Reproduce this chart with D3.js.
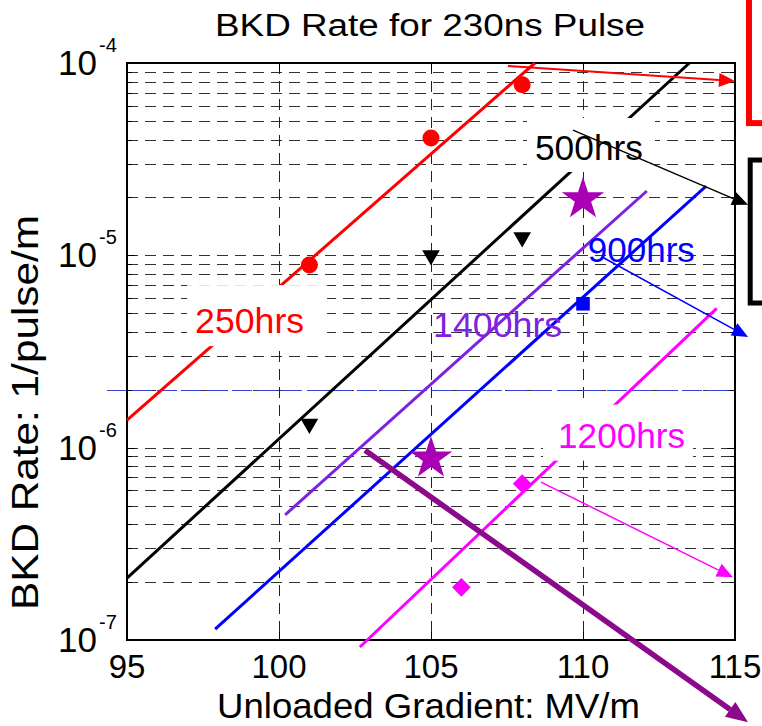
<!DOCTYPE html>
<html>
<head>
<meta charset="utf-8">
<script src="https://cdn.jsdelivr.net/npm/d3@7"></script>
<style>
  body { margin: 0; background: #fff; }
  svg text { font-family: "Liberation Sans", Arial, sans-serif; }
</style>
</head>
<body>
<svg id="chart" width="762" height="726"></svg>
<script>
// measured points (gradient MV/m, BKD rate 1/pulse/m)
const circleGradient = [101, 105, 108];
const circleRate = [8.9e-6, 4.07e-5, 7.7e-5];
const triangleGradient = [101, 105, 108];
const triangleRate = [1.33e-6, 1.0e-5, 1.24e-5];
const starGradient = [105, 110];
const starRate = [8.8e-7, 1.96e-5];
const squareGradient = [110];
const squareRate = [5.6e-6];
const diamondGradient = [106, 108];
const diamondRate = [1.88e-7, 6.5e-7];

// fitted lines, start and end
const fitNames = ["250hrs", "500hrs", "1400hrs", "900hrs", "1200hrs"];
const fitGradient = [[95, 108.42], [95, 113.5], [100.2, 112.1], [97.9, 114.05], [102.66, 114.4]];
const fitRate = [[1.39e-6, 1e-4], [2.1e-7, 1e-4], [4.47e-7, 2.16e-5], [1.14e-7, 2.29e-5], [9.2e-8, 5.3e-6]];

// reference level
const refRate = 2e-6;
const refGradient = [94.34, 115];

// axis ticks
const xTicks = [95, 100, 105, 110, 115];
const yDecades = [-7, -6, -5, -4];

// label anchors (gradient, rate)
const labelGradient = [97.24, 108.42, 105.07, 110.16, 109.18];
const labelRate = [3.94e-6, 3.13e-5, 3.76e-6, 9.2e-6, 1.0e-6];

// arrows from labels to the (cut off) boxes on the right
const arrowFrom = [[107.53, 9.64e-5], [109.67, 4.48e-5], [110.63, 9.8e-6], [108.62, 6.62e-7], [102.83, 9.7e-7]];
const arrowTo = [[115.0, 8.06e-5], [115.43, 1.83e-5], [115.43, 3.76e-6], [114.93, 2.12e-7], [115.43, 3.74e-8]];

// note boxes cut at the right edge
const noteBoxGradient = [[115.46, 117.5], [115.5, 117.5]];
const noteBoxRate = [[2.4e-4, 4.87e-5], [3.13e-5, 5.65e-6]];

const colors = {
  red: "#ff0000",
  black: "#000000",
  violet: "#7d22e0",
  blue: "#0000ff",
  magenta: "#ff00ff",
  star: "#a900b5",
  thick: "#8b0a8b"
};
const fitColors = [colors.red, colors.black, colors.violet, colors.blue, colors.magenta];
const arrowColors = [colors.red, colors.black, colors.blue, colors.magenta, colors.thick];

// white boxes behind some labels, relative to the text anchor [left, top, right, bottom]
const labelPad = [[-8, -48, 132, 13], [-8, -42, 120, 12], null, null, [-15, -43, 135, 13]];
const labelWidth = [109, 108, 129, 107, 127];

const margin = { left: 127, right: 735, top: 63, bottom: 640 };

let svg = d3.select("#chart");
let x = d3.scaleLinear().domain([95, 115]).range([margin.left, margin.right]);
let y = d3.scaleLog().domain([1e-7, 1e-4]).range([margin.bottom, margin.top]);

// snap thin lines onto the pixel grid
let crisp = v => Math.round(v) + 0.5;

// grid
let grid = svg.append("g");
let minorValues = [];
for (let e = -7; e < -4; e++) {
  for (let m = 1; m <= 9; m++) {
    if (e === -7 && m === 1) continue;
    minorValues.push(m * Math.pow(10, e));
  }
}
grid.selectAll("line.h").data(minorValues).enter().append("line")
  .attr("x1", x(95)).attr("x2", x(115))
  .attr("y1", d => crisp(y(d))).attr("y2", d => crisp(y(d)))
  .attr("stroke", "#333").attr("stroke-width", 1)
  .attr("stroke-dasharray", "11,7");
grid.selectAll("line.v").data(xTicks.slice(1, -1)).enter().append("line")
  .attr("x1", d => crisp(x(d))).attr("x2", d => crisp(x(d)))
  .attr("y1", y(1e-4)).attr("y2", y(1e-7))
  .attr("stroke", "#222").attr("stroke-width", 1)
  .attr("stroke-dasharray", "11,7");

// reference level
svg.append("line")
  .attr("x1", x(refGradient[0])).attr("x2", x(refGradient[1]))
  .attr("y1", crisp(y(refRate))).attr("y2", crisp(y(refRate)))
  .attr("stroke", "#3344dd").attr("stroke-width", 1)
  .attr("stroke-dasharray", "20,5");

// axes box and ticks
svg.append("rect")
  .attr("x", x(95)).attr("y", y(1e-4))
  .attr("width", x(115) - x(95)).attr("height", y(1e-7) - y(1e-4))
  .attr("fill", "none").attr("stroke", "#000").attr("stroke-width", 2);

let tickG = svg.append("g").attr("stroke", "#000").attr("stroke-width", 1);
minorValues.forEach(v => {
  let len = Number.isInteger(Math.log10(v)) ? 8 : 5;
  tickG.append("line").attr("x1", x(95)).attr("x2", x(95) + len).attr("y1", crisp(y(v))).attr("y2", crisp(y(v)));
  tickG.append("line").attr("x1", x(115)).attr("x2", x(115) - len).attr("y1", crisp(y(v))).attr("y2", crisp(y(v)));
});
xTicks.forEach(t => {
  tickG.append("line").attr("x1", crisp(x(t))).attr("x2", crisp(x(t))).attr("y1", y(1e-7)).attr("y2", y(1e-7) - 8);
  tickG.append("line").attr("x1", crisp(x(t))).attr("x2", crisp(x(t))).attr("y1", y(1e-4)).attr("y2", y(1e-4) + 8);
});

// tick labels
svg.selectAll("text.xt").data(xTicks).enter().append("text")
  .attr("x", d => x(d)).attr("y", 678)
  .attr("text-anchor", "middle").attr("font-size", 33)
  .text(d => d);
yDecades.forEach(e => {
  let py = y(Math.pow(10, e));
  svg.append("text").attr("x", 97).attr("y", py + 12)
    .attr("text-anchor", "end").attr("font-size", 35).text("10");
  svg.append("text").attr("x", 99).attr("y", py - 11)
    .attr("font-size", 20).text(e);
});

// titles
svg.append("text").attr("x", 215).attr("y", 36)
  .attr("font-size", 31).attr("textLength", 430).attr("lengthAdjust", "spacingAndGlyphs")
  .text("BKD Rate for 230ns Pulse");
svg.append("text").attr("x", 217).attr("y", 718)
  .attr("font-size", 35).attr("textLength", 423).attr("lengthAdjust", "spacingAndGlyphs")
  .text("Unloaded Gradient: MV/m");
svg.append("text")
  .attr("transform", "translate(38,610) rotate(-90)")
  .attr("font-size", 37).attr("textLength", 395).attr("lengthAdjust", "spacingAndGlyphs")
  .text("BKD Rate: 1/pulse/m");

// fit lines
svg.selectAll("line.fit").data(fitNames).enter().append("line")
  .attr("x1", (d, i) => x(fitGradient[i][0])).attr("y1", (d, i) => y(fitRate[i][0]))
  .attr("x2", (d, i) => x(fitGradient[i][1])).attr("y2", (d, i) => y(fitRate[i][1]))
  .attr("stroke", (d, i) => fitColors[i]).attr("stroke-width", 3);

// labels; some sit on white boxes that hide lines and grid
let labels = svg.append("g");
fitNames.forEach((name, i) => {
  let lx = x(labelGradient[i]), ly = y(labelRate[i]);
  let p = labelPad[i];
  if (p) {
    labels.append("rect")
      .attr("x", lx + p[0]).attr("y", ly + p[1])
      .attr("width", p[2] - p[0]).attr("height", p[3] - p[1])
      .attr("fill", "#fff");
  }
  labels.append("text")
    .attr("x", lx).attr("y", ly)
    .attr("font-size", 35).attr("fill", fitColors[i])
    .attr("textLength", labelWidth[i]).attr("lengthAdjust", "spacingAndGlyphs")
    .text(name);
});

// markers
function drawMarkers(gs, rs, type, size, fill, rotate) {
  svg.append("g").selectAll("path").data(gs).enter().append("path")
    .attr("d", d3.symbol().type(type).size(size))
    .attr("transform", (d, i) => `translate(${x(d)},${y(rs[i])}) rotate(${rotate})`)
    .attr("fill", fill);
}
drawMarkers(circleGradient, circleRate, d3.symbolCircle, 227, colors.red, 0);
drawMarkers(triangleGradient, triangleRate, d3.symbolTriangle, 135, colors.black, 180);
drawMarkers(squareGradient, squareRate, d3.symbolSquare, 185, colors.blue, 0);
drawMarkers(diamondGradient, diamondRate, d3.symbolSquare, 175, colors.magenta, 45);
drawMarkers(starGradient, starRate, d3.symbolStar, 560, colors.star, 0);

// note boxes at right edge
noteBoxGradient.forEach((g, i) => {
  svg.append("rect")
    .attr("x", x(g[0])).attr("y", y(noteBoxRate[i][0]))
    .attr("width", x(g[1]) - x(g[0])).attr("height", y(noteBoxRate[i][1]) - y(noteBoxRate[i][0]))
    .attr("fill", "none").attr("stroke", i === 0 ? colors.red : colors.black)
    .attr("stroke-width", i === 0 ? 6 : 5);
});

// arrows
function drawArrow(x1, y1, x2, y2, color, width, headLen, headW) {
  let a = Math.atan2(y2 - y1, x2 - x1);
  let bx = x2 - headLen * Math.cos(a), by = y2 - headLen * Math.sin(a);
  svg.append("line").attr("x1", x1).attr("y1", y1).attr("x2", bx).attr("y2", by)
    .attr("stroke", color).attr("stroke-width", width);
  let px = -Math.sin(a) * headW / 2, py = Math.cos(a) * headW / 2;
  svg.append("path")
    .attr("d", `M${x2},${y2}L${bx + px},${by + py}L${bx - px},${by - py}Z`)
    .attr("fill", color);
}
arrowFrom.forEach((f, i) => {
  let thick = i === 4;
  drawArrow(x(f[0]), y(f[1]), x(arrowTo[i][0]), y(arrowTo[i][1]), arrowColors[i],
    thick ? 5.5 : (i === 0 ? 2 : 1.5), thick ? 22 : 16, thick ? 18 : 14);
});
</script>
</body>
</html>
